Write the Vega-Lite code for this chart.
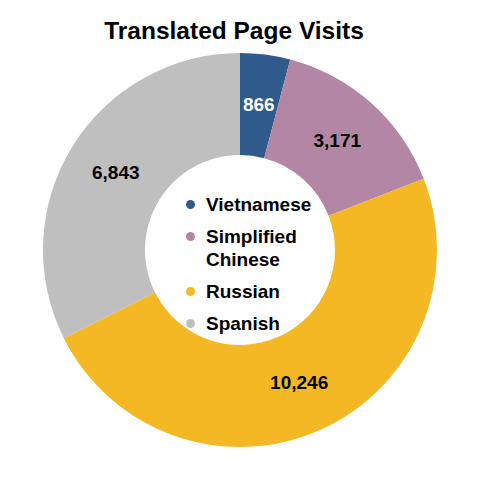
{
  "$schema": "https://vega.github.io/schema/vega-lite/v6.json",
  "width": 480,
  "height": 420,
  "autosize": "none",
  "padding": {"top": 40, "left": 0, "right": 0, "bottom": 0},
  "background": "white",
  "title": {
    "text": "Translated Page Visits",
    "font": "Liberation Sans",
    "fontSize": 24.5,
    "fontWeight": "bold",
    "color": "#000000",
    "anchor": "middle",
    "offset": -4,
    "dx": -6
  },
  "config": {
    "view": {"stroke": null},
    "font": "Liberation Sans",
    "style": {"guide-label": {"lineHeight": 23}}
  },
  "data": {
    "values": [
      {"language": "Vietnamese", "visits": 866, "rank": 1},
      {"language": "Simplified Chinese", "visits": 3171, "rank": 2},
      {"language": "Russian", "visits": 10246, "rank": 3},
      {"language": "Spanish", "visits": 6843, "rank": 4}
    ]
  },
  "layer": [
    {
      "mark": {"type": "arc", "outerRadius": 197, "innerRadius": 95},
      "encoding": {
        "theta": {"field": "visits", "type": "quantitative", "stack": true},
        "order": {"field": "rank", "type": "quantitative"},
        "color": {
          "field": "language",
          "type": "nominal",
          "scale": {
            "domain": ["Vietnamese", "Simplified Chinese", "Russian", "Spanish"],
            "range": ["#2E5B8C", "#B286A4", "#F3B823", "#BFBFBF"]
          },
          "legend": {
            "title": null,
            "orient": "none",
            "legendX": 181,
            "legendY": 155,
            "padding": 0,
            "symbolType": "circle",
            "symbolSize": 80,
            "symbolStrokeWidth": 0,
            "labelFont": "Liberation Sans",
            "labelFontSize": 19,
            "labelFontWeight": "bold",
            "labelColor": "#000000",
            "labelOffset": 6,
            "labelLimit": 200,
            "rowPadding": 12,
            "labelExpr": "datum.label === 'Simplified Chinese' ? ['Simplified', 'Chinese'] : datum.label"
          }
        }
      }
    },
    {
      "mark": {
        "type": "text",
        "radius": 146,
        "font": "Liberation Sans",
        "fontSize": 19,
        "fontWeight": "bold"
      },
      "encoding": {
        "theta": {"field": "visits", "type": "quantitative", "stack": true},
        "order": {"field": "rank", "type": "quantitative"},
        "text": {"field": "visits", "type": "quantitative", "format": ","},
        "color": {
          "condition": {"test": "datum.language === 'Vietnamese'", "value": "#FFFFFF"},
          "value": "#000000"
        }
      }
    }
  ]
}
